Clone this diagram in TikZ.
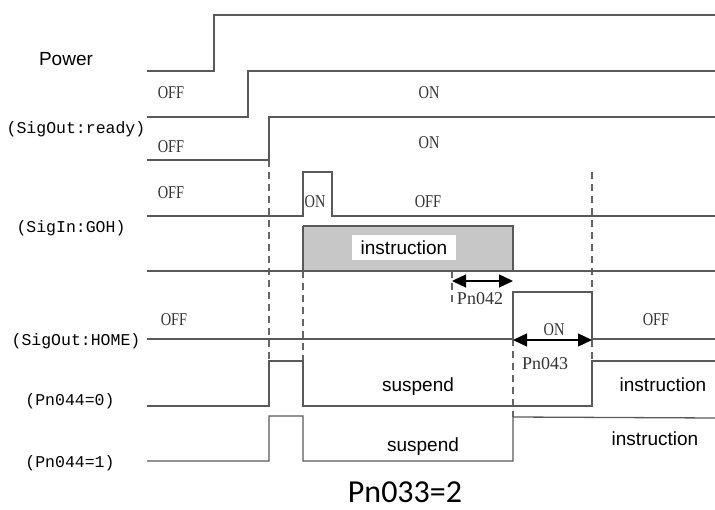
\documentclass[tikz,border=0pt]{standalone}
\usepackage{fontspec}
\setmainfont{Liberation Serif}
\setsansfont{Liberation Sans}
\newfontfamily\sigfont{Liberation Mono}
\newfontfamily\statefont[FakeStretch=0.8]{Liberation Serif}
\newfontfamily\titlefont{Carlito}
\usetikzlibrary{arrows.meta}

\begin{document}
\begin{tikzpicture}[x=1pt,y=-1pt,
  wave/.style={line width=1.3pt,draw=black!65},
  guide/.style={line width=1.2pt,draw=black!60,dash pattern=on 7pt off 5pt},
  span/.style={line width=1.3pt,{Triangle[length=14pt,width=13pt]}-{Triangle[length=14pt,width=13pt]}},
  sig/.style={font=\sigfont\fontsize{16.5}{16.5}\selectfont,inner sep=0pt},
  state/.style={font=\statefont\fontsize{18}{18}\selectfont,text=black!80,inner sep=0pt},
  delay/.style={font=\fontsize{18}{18}\selectfont,text=black!80,inner sep=0pt},
  word/.style={font=\sffamily\fontsize{19}{19}\selectfont,inner sep=0pt}]
  \useasboundingbox (0,0) rectangle (715,510);
  % shaded instruction window
  \fill[black!22] (303,226) rectangle (513,271);
  \draw[wave] (303,226) -- (513,226) -- (513,271);
  \node[word,fill=white,minimum width=104pt,minimum height=25pt] (instr) at (404,248) {instruction};
  % guide lines
  \draw[guide] (269,160) -- (269,361);
  \draw[guide] (303,271) -- (303,361);
  \draw[guide] (452,271) -- (452,306);
  \draw[guide] (513,339) -- (513,417);
  \draw[guide] (592,172) -- (592,361);
  % waveforms
  \draw[wave] (147,71) -- (214,71) -- (214,15) -- (715,15);
  \draw[wave] (147,117) -- (248,117) -- (248,71) -- (715,71);
  \draw[wave] (147,160) -- (269,160) -- (269,117) -- (715,117);
  \draw[wave] (147,216) -- (303,216) -- (303,172) -- (332,172) -- (332,216) -- (715,216);
  \draw[wave] (147,271) -- (715,271);
  \draw[wave] (303,226) -- (303,271);
  \draw[wave] (147,339) -- (513,339) -- (513,292) -- (592,292) -- (592,339) -- (715,339);
  \draw[wave] (147,406) -- (269,406) -- (269,361) -- (303,361) -- (303,406) -- (592,406) -- (592,361) -- (715,361);
  \draw[wave] (147,461) -- (269,461) -- (269,416) -- (303,416) -- (303,461) -- (513,461) -- (513,417) -- (715,418);
  % delays
  \coordinate (d42a) at (452,281);
  \coordinate (d42b) at (513,281);
  \coordinate (d43a) at (513,340);
  \coordinate (d43b) at (592,340);
  \draw[span] (d42a) -- (d42b);
  \draw[span] (d43a) -- (d43b);
  \node[delay] (pn42) at (480,299) {Pn042};
  \node[delay] (pn43) at (545,364) {Pn043};
  % signal names
  \node[word] (power) at (66,59) {Power};
  \node[sig] (ready) at (76,129) {(SigOut:ready)};
  \node[sig] (goh) at (71,228) {(SigIn:GOH)};
  \node[sig] (home) at (76,341) {(SigOut:HOME)};
  \node[sig] (mode0) at (70,401) {(Pn044=0)};
  \node[sig] (mode1) at (70,463) {(Pn044=1)};
  % states
  \node[state] (off1) at (171,93) {OFF};
  \node[state] (on1) at (429,93) {ON};
  \node[state] (off2) at (171,147) {OFF};
  \node[state] (on2) at (429,143) {ON};
  \node[state] (off3) at (171,193) {OFF};
  \node[state] (on3) at (315,202) {ON};
  \node[state] (off4) at (428,202) {OFF};
  \node[state] (off5) at (174,320) {OFF};
  \node[state] (on5) at (554,330) {ON};
  \node[state] (off6) at (656,320) {OFF};
  \node[word] (susp0) at (418,387) {suspend};
  \node[word] (run0) at (663,385) {instruction};
  \node[word] (susp1) at (423,447) {suspend};
  \node[word] (run1) at (655,439) {instruction};
  \node[font=\titlefont\fontsize{32}{32}\selectfont,inner sep=0pt] (title) at (405,492) {Pn033=2};
\end{tikzpicture}
\end{document}
